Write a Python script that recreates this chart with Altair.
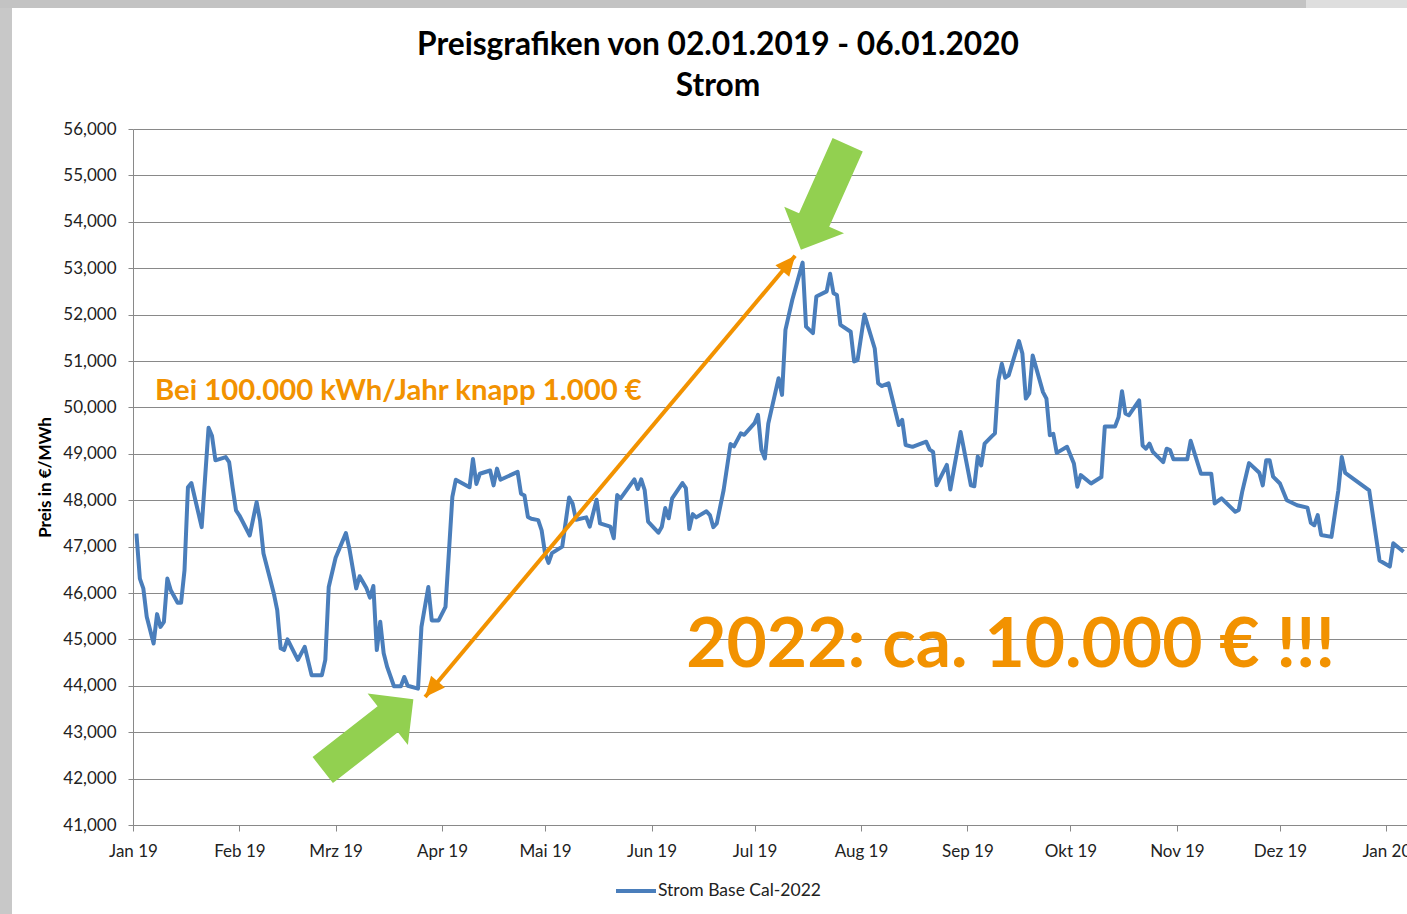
import altair as alt
import pandas as pd

# ---- data -----------------------------------------------------------------
# trading day = days after 1 Jan 2019
trading_day = [1,2,3,4,6,7,8,9,10,11,13,14,15,16,17,20,22,23,24,27,28,29,30,31,34,36,37,38,40,41,
               42,43,44,45,48,50,52,55,56,57,59,62,63,65,66,68,69,70,71,72,73,74,76,78,79,80,83,84,86,87,
               89,91,93,94,98,99,100,101,104,105,106,107,112,113,114,115,116,118,119,120,121,122,125,127,128,129,132,133,135,136,
               139,140,141,142,146,147,148,149,150,153,154,155,156,157,160,161,162,163,164,167,168,169,170,172,
               174,175,177,178,181,182,183,184,185,188,189,190,192,195,196,198,199,202,203,204,205,206,209,210,
               211,213,216,217,218,220,223,224,225,227,231,232,233,234,237,238,239,241,244,245,246,247,248,250,
               251,252,253,254,255,258,259,260,261,262,265,266,267,268,269,272,274,275,276,279,282,283,286,287,
               288,289,290,293,294,295,296,297,300,301,302,303,307,308,311,314,315,317,321,322,323,325,328,329,
               330,331,332,334,336,339,342,343,344,345,346,349,351,352,353,360,363,366,367,370]
price = [47280,46310,46100,45490,44910,45545,45270,45380,46310,46060,45790,45790,46490,48280,48370,47420,49560,49390,48860,48930,
         48820,48280,47780,47670,47240,47960,47560,46850,46280,45990,45630,44810,44770,45000,44560,44840,44230,44230,44560,46130,
         46760,47290,46960,46100,46360,46100,45900,46150,44770,45380,44700,44410,43990,43990,44190,44000,43940,45270,46130,45410,
         45410,45700,48070,48440,48280,48890,48350,48570,48640,48320,48680,48440,48610,48140,48100,47640,47600,47570,47350,46850,
         46650,46860,47000,48060,47930,47580,47630,47430,48010,47500,47430,47180,48110,48040,48450,48240,48450,48220,47540,47300,
         47430,47830,47610,48040,48370,48260,47380,47700,47630,47760,47680,47420,47500,48220,49210,49160,49440,49410,49660,49840,
         49080,48900,49650,50630,50270,51670,52320,53120,51740,51600,52390,52500,52880,52460,52420,51780,51630,50990,51020,52000,
         51270,50520,50460,50520,49620,49730,49190,49150,49260,49090,49040,48320,48760,48230,48650,49470,48320,48300,48940,48750,
         49220,49370,49440,50580,50940,50640,50690,51430,51160,50190,50300,51120,50330,50190,49400,49430,49020,49150,48790,48290,
         48540,48360,48500,49590,49590,49790,50350,49870,49830,50150,49180,49110,49220,49040,48820,49110,49080,48880,48880,49280,
         48570,48570,47930,48040,47750,47790,48180,48800,48590,48320,48860,48860,48510,48360,48000,47890,47840,47510,47460,47680,
         47250,47210,48210,48930,48590,48210,46700,46570,47070,46890]
series_name = "Strom Base Cal-2022"

month_labels = ["Jan", "Feb", "Mrz", "Apr", "Mai", "Jun", "Jul", "Aug", "Sep", "Okt", "Nov", "Dez"]
y_ticks = list(range(41000, 56001, 1000))

# annotations (anchor points in data space)
orange_arrow_dates = ["2019-03-27T01:30:00", "2019-07-12T20:00:00"]
orange_arrow_prices = [43760, 53268]
green_tip_dates = ["2019-07-14T12:00:00", "2019-03-23T15:30:00"]
green_tip_prices = [53398, 43710]
note_texts = ["Bei 100.000 kWh/Jahr knapp 1.000 €", "2022: ca. 10.000 € !!!"]
note_dates = ["2019-01-07T09:30:00", "2019-06-11T02:30:00"]
note_prices = [50170, 44400]

# ---- styling ----------------------------------------------------------------
BLUE = "#4A7EBB"
ORANGE = "#F29200"
GREEN = "#92D050"
GRID = "#898989"
FONT = "Lato"

base_day = pd.Timestamp("2019-01-01")
df = pd.DataFrame({
    "date": base_day + pd.to_timedelta(trading_day, unit="D"),
    "price": price,
    "series": series_name,
})

x_scale = alt.Scale(domain=[alt.DateTime(year=2019, month=1, date=1),
                            alt.DateTime(year=2020, month=1, date=7)])
y_scale = alt.Scale(domain=[41000, 56000], nice=False, zero=False)

x_axis = alt.Axis(
    values=[alt.DateTime(year=2019 + m // 12, month=m % 12 + 1, date=1) for m in range(13)],
    labelExpr="['" + "','".join(month_labels) + "'][month(datum.value)] + ' ' + timeFormat(datum.value, '%y')",
    labelFlush=False, labelOverlap=False, grid=False,
    tickSize=6, tickColor=GRID, domainColor=GRID,
    labelFont=FONT, labelFontSize=17, labelColor="#222222", labelPadding=12,
    title=None,
)
y_axis = alt.Axis(
    values=y_ticks, format=",d", grid=True, gridColor=GRID, gridWidth=1,
    tickSize=5, tickColor=GRID, domainColor=GRID,
    labelFont=FONT, labelFontSize=17, labelColor="#222222", labelPadding=12,
    title="Preis in €/MWh", titleFont=FONT, titleFontSize=17, titleFontWeight="bold",
    titleColor="black", titlePadding=8,
)

X = alt.X("date:T", scale=x_scale, axis=x_axis)
Y = alt.Y("price:Q", scale=y_scale, axis=y_axis)

line = alt.Chart(df).mark_line(strokeWidth=4, strokeJoin="round").encode(
    x=X, y=Y,
    color=alt.Color("series:N",
                    scale=alt.Scale(domain=[series_name], range=[BLUE]),
                    legend=alt.Legend(orient="none", legendX=481, legendY=740,
                                      direction="horizontal", symbolType="stroke",
                                      symbolStrokeWidth=4, symbolSize=1600,
                                      labelFont=FONT, labelFontSize=17.5, labelLimit=400,
                                      labelColor="#222222", labelOffset=0,
                                      padding=0, title=None)),
)

arrow_df = pd.DataFrame({"date": [orange_arrow_dates[0]], "price": [orange_arrow_prices[0]],
                         "date2": [orange_arrow_dates[1]], "price2": [orange_arrow_prices[1]]})
orange_shaft = alt.Chart(arrow_df).mark_rule(color=ORANGE, strokeWidth=4).encode(
    x=X, y=Y, x2="date2:T", y2="price2:Q")

head_path = "M0,0 L0.9,2 L-0.9,2 Z"
oa_lo = pd.DataFrame({"date": [orange_arrow_dates[0]], "price": [orange_arrow_prices[0]]})
oa_hi = pd.DataFrame({"date": [orange_arrow_dates[1]], "price": [orange_arrow_prices[1]]})
orange_head_lo = alt.Chart(oa_lo).mark_point(shape=head_path, size=400, angle=220, filled=True,
                                             color=ORANGE, opacity=1, strokeWidth=0).encode(x=X, y=Y)
orange_head_hi = alt.Chart(oa_hi).mark_point(shape=head_path, size=400, angle=40, filled=True,
                                             color=ORANGE, opacity=1, strokeWidth=0).encode(x=X, y=Y)

fat_arrow = "M0,0 L0.569,0.565 L0.287,0.565 L0.287,2 L-0.287,2 L-0.287,0.565 L-0.569,0.565 Z"
g_top = pd.DataFrame({"date": [green_tip_dates[0]], "price": [green_tip_prices[0]]})
g_bot = pd.DataFrame({"date": [green_tip_dates[1]], "price": [green_tip_prices[1]]})
green_top = alt.Chart(g_top).mark_point(shape=fat_arrow, size=13225, angle=204, filled=True,
                                        color=GREEN, opacity=1, strokeWidth=0).encode(x=X, y=Y)
green_bot = alt.Chart(g_bot).mark_point(shape=fat_arrow, size=13225, angle=52, filled=True,
                                        color=GREEN, opacity=1, strokeWidth=0).encode(x=X, y=Y)

n1 = pd.DataFrame({"date": [note_dates[0]], "price": [note_prices[0]], "t": [note_texts[0]]})
n2 = pd.DataFrame({"date": [note_dates[1]], "price": [note_prices[1]], "t": [note_texts[1]]})
note1 = alt.Chart(n1).mark_text(align="left", baseline="alphabetic", font=FONT, fontWeight="bold",
                                fontSize=29.3, color=ORANGE).encode(x=X, y=Y, text="t:N")
note2 = alt.Chart(n2).mark_text(align="left", baseline="alphabetic", font=FONT, fontWeight="bold",
                                fontSize=69.5, color=ORANGE).encode(x=X, y=Y, text="t:N")

# screenshot frame (grey strips at the left and top edge)
frame_left = alt.Chart(alt.Data(values=[{}])).mark_rect(color="#c8c8c8").encode(
    x=alt.value(-133), x2=alt.value(-121), y=alt.value(-129), y2=alt.value(785))
frame_top = alt.Chart(alt.Data(values=[{}])).mark_rect(color="#c3c3c3").encode(
    x=alt.value(-133), x2=alt.value(1173), y=alt.value(-129), y2=alt.value(-121))
frame_top2 = alt.Chart(alt.Data(values=[{}])).mark_rect(color="#dedede").encode(
    x=alt.value(1173), x2=alt.value(1274), y=alt.value(-129), y2=alt.value(-121))

chart = alt.layer(
    frame_left, frame_top, frame_top2,
    line, orange_shaft, orange_head_lo, orange_head_hi,
    green_top, green_bot, note1, note2,
).properties(
    width=1274, height=696,
    autosize=alt.AutoSizeParams(type="none"),
    padding={"left": 133, "top": 129, "right": 0, "bottom": 89},
    background="white",
    title=alt.TitleParams(
        text="Preisgrafiken von 02.01.2019 - 06.01.2020", subtitle="Strom",
        font=FONT, subtitleFont=FONT, fontSize=31.7, subtitleFontSize=31.7,
        fontWeight="bold", subtitleFontWeight="bold", color="black", subtitleColor="black",
        anchor="middle", frame="group", dx=-52, offset=-103, subtitlePadding=10,
    ),
).configure_view(strokeWidth=0)

chart.save("out.html", embed_options={"renderer": "svg", "actions": False})
